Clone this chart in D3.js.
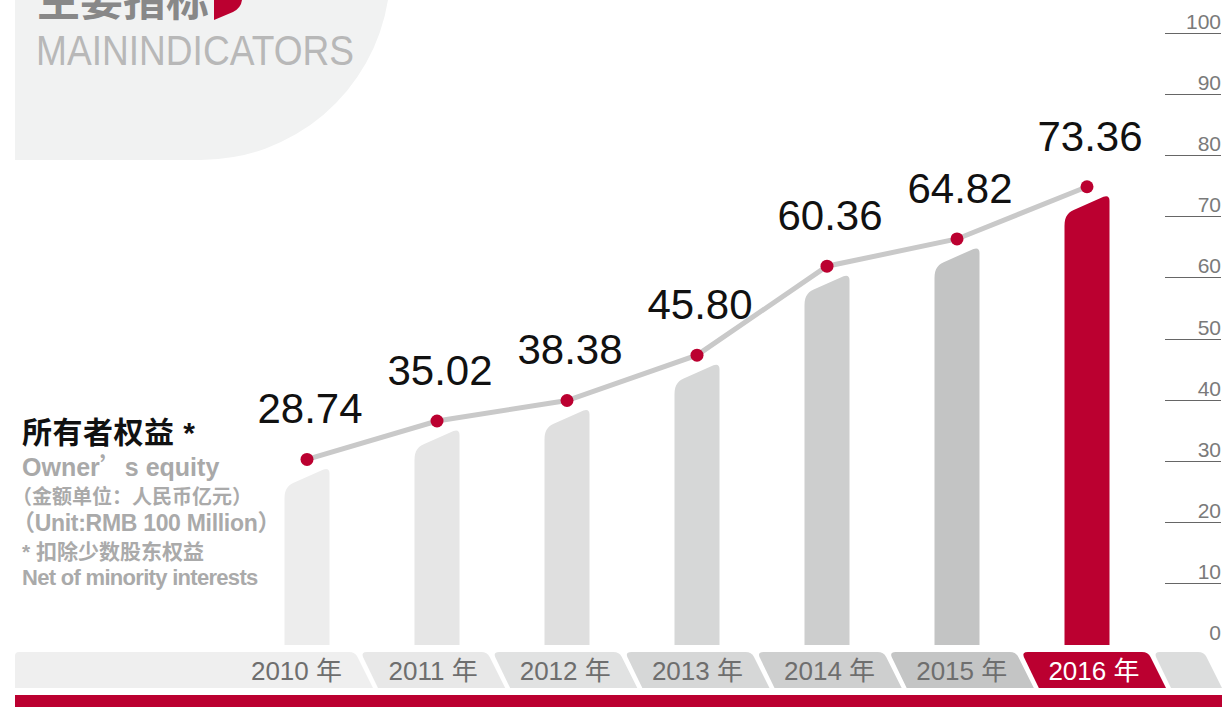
<!DOCTYPE html>
<html lang="zh">

<head>
    <meta charset="utf-8">
    <title>主要指标 - 所有者权益</title>
    <script src="https://d3js.org/d3.v7.min.js"></script>
    <style type="text/css">
        body { margin: 0; background: #fff; }
        svg { display: block; }
        text { font-family: "Liberation Sans", "Noto Sans CJK SC", sans-serif; }
    </style>
</head>

<body>
    <script type="text/javascript">

        // Width and height
        var w = 1230,
            h = 707;

        // data
        var years = ["2010", "2011", "2012", "2013", "2014", "2015", "2016"];
        var equity = [28.74, 35.02, 38.38, 45.80, 60.36, 64.82, 73.36];
        var yTicks = [0, 10, 20, 30, 40, 50, 60, 70, 80, 90, 100];
        var barColors = ["#ededed", "#e6e6e6", "#dfdfdf", "#d6d7d7", "#cdcece", "#c3c4c4", "#bb0030"];
        var tabColors = ["#efefef", "#e8e8e8", "#e1e2e2", "#d6d7d7", "#cecfcf", "#c4c5c5", "#bb0030", "#dcdddd"];

        var red = "#bb0030";

        var x = d3.scalePoint()
            .domain(years)
            .range([307, 1087]);

        var y = d3.scaleLinear()
            .domain([0, 100])
            .range([644, 33]);

        var svg = d3.select("body")
            .append("svg")
            .attr("width", w)
            .attr("height", h);

        // grey corner shape with title
        svg.append("path")
            .attr("d", "M15,0 L388,0 A190,190 0 0 1 200,160 L15,160 Z")
            .attr("fill", "#f1f2f2");

        svg.append("text")
            .attr("x", 37)
            .attr("y", 16)
            .attr("font-family", "Noto Sans CJK SC")
            .attr("font-size", "43px")
            .attr("font-weight", "bold")
            .attr("fill", "#888")
            .text("主要指标");

        svg.append("path")
            .attr("d", "M214,0 L214,20 L233,12 Q241,8 242,0 Z")
            .attr("fill", red);

        svg.append("text")
            .attr("x", 36)
            .attr("y", 65)
            .attr("font-family", "Lato")
            .attr("font-weight", 300)
            .attr("font-size", "42px")
            .attr("fill", "#b8b8b8")
            .attr("textLength", 318)
            .attr("lengthAdjust", "spacingAndGlyphs")
            .text("MAININDICATORS");

        // y axis on the right: short rules under each label
        var axis = svg.append("g");
        axis.selectAll("line")
            .data(yTicks.filter(function (d) { return d > 0; }))
            .enter()
            .append("line")
            .attr("x1", 1165)
            .attr("x2", 1221)
            .attr("y1", function (d) { return Math.round(y(d)) + 0.5; })
            .attr("y2", function (d) { return Math.round(y(d)) + 0.5; })
            .attr("stroke", "#666")
            .attr("stroke-width", 1);
        axis.selectAll("text")
            .data(yTicks)
            .enter()
            .append("text")
            .attr("x", 1221)
            .attr("y", function (d) { return y(d) - 4; })
            .attr("text-anchor", "end")
            .attr("font-size", "21px")
            .attr("fill", "#7a7a7a")
            .text(function (d) { return d; });

        // bars with a slanted, rounded top
        var bw = 45;
        function barPath(d, i) {
            var x0 = x(years[i]) - bw / 2,
                x1 = x0 + bw,
                t = y(d),
                b = y(0) + 1;
            return "M" + x0 + "," + b +
                " L" + x0 + "," + (t + 30) +
                " C" + x0 + "," + (t + 20) + " " + (x0 + 4) + "," + (t + 16) + " " + (x0 + 12) + "," + (t + 13) +
                " L" + (x1 - 6) + "," + (t + 1) +
                " Q" + x1 + "," + (t - 1) + " " + x1 + "," + (t + 5) +
                " L" + x1 + "," + b + " Z";
        }

        svg.selectAll("path.bar")
            .data(equity)
            .enter()
            .append("path")
            .attr("class", "bar")
            .attr("d", barPath)
            .attr("fill", function (d, i) { return barColors[i]; });

        // line + dots
        var line = d3.line()
            .x(function (d, i) { return x(years[i]); })
            .y(function (d) { return y(d) - 9; });

        svg.append("path")
            .datum(equity)
            .attr("d", line)
            .attr("fill", "none")
            .attr("stroke", "#c9c9c9")
            .attr("stroke-width", 5)
            .attr("stroke-linecap", "round");

        svg.selectAll("circle")
            .data(equity)
            .enter()
            .append("circle")
            .attr("cx", function (d, i) { return x(years[i]); })
            .attr("cy", function (d) { return y(d) - 9; })
            .attr("r", 6.5)
            .attr("fill", red);

        svg.selectAll("text.val")
            .data(equity)
            .enter()
            .append("text")
            .attr("class", "val")
            .attr("x", function (d, i) { return x(years[i]) + 3; })
            .attr("y", function (d) { return y(d) - 45; })
            .attr("text-anchor", "middle")
            .attr("font-family", "Roboto")
            .attr("font-size", "42px")
            .attr("fill", "#111")
            .text(function (d) { return d.toFixed(2); });

        // year tabs along the bottom
        var tT = 652, tB = 688, s = 17, gap = 5;
        var edge = d3.scaleLinear().domain([0, 6]).range([361, 1154]);
        function tabPath(i) {
            var L = i === 0 ? 15 : edge(i - 1),
                R = i === 7 ? 1205 : edge(i) - gap;
            var left = i === 0
                ? "M15," + tB + " L15," + (tT + 4) + " Q15," + tT + " 19," + tT
                : "M" + (L + s) + "," + tB + " L" + (L + 2) + "," + (tT + 5) + " Q" + L + "," + tT + " " + (L + 6) + "," + tT;
            return left +
                " L" + (R - 7) + "," + tT +
                " Q" + (R - 1) + "," + tT + " " + (R + 1.5) + "," + (tT + 5) +
                " L" + (R + s) + "," + tB + " Z";
        }

        var tabs = svg.append("g");
        tabs.selectAll("path")
            .data(tabColors)
            .enter()
            .append("path")
            .attr("d", function (d, i) { return tabPath(i); })
            .attr("fill", function (d) { return d; });

        tabs.selectAll("text")
            .data(years)
            .enter()
            .append("text")
            .attr("x", function (d, i) {
                var L = i === 0 ? 220 : edge(i - 1),
                    R = edge(i) - gap;
                return (L + R) / 2 + s / 2;
            })
            .attr("y", 680)
            .attr("text-anchor", "middle")
            .attr("font-size", "26px")
            .attr("fill", function (d, i) { return i === 6 ? "#fff" : "#6e6e6e"; })
            .text(function (d) { return d + " 年"; });

        svg.append("rect")
            .attr("x", 15)
            .attr("y", 695)
            .attr("width", 1207)
            .attr("height", 12)
            .attr("fill", red);

        // left description
        var desc = [
            { t: "所有者权益 *", y: 443, size: 30, color: "#111", font: "Noto Sans CJK SC", x: 22, ls: 0.5 },
            { t: "Owner\u2019s equity", y: 476, size: 25, color: "#a9a9a9", font: "Liberation Sans", x: 22, ls: 0 },
            { t: "（金额单位：人民币亿元）", y: 504, size: 20, color: "#aaa", font: "Noto Sans CJK SC", x: 12, ls: 0 },
            { t: "（Unit:RMB 100 Million）", y: 531, size: 23, color: "#aaa", font: "Liberation Sans", x: 12, ls: -0.3 },
            { t: "* 扣除少数股东权益", y: 559, size: 21, color: "#aaa", font: "Noto Sans CJK SC", x: 22, ls: 0 },
            { t: "Net of minority interests", y: 585, size: 22, color: "#aaa", font: "Liberation Sans", x: 22, ls: -0.7 }
        ];
        var dt = svg.selectAll("text.desc")
            .data(desc)
            .enter()
            .append("text")
            .attr("class", "desc")
            .attr("x", function (d) { return d.x; })
            .attr("y", function (d) { return d.y; })
            .attr("font-family", function (d) { return d.font; })
            .attr("font-size", function (d) { return d.size + "px"; })
            .attr("font-weight", "bold")
            .attr("letter-spacing", function (d) { return d.ls; })
            .attr("fill", function (d) { return d.color; });

        // the apostrophe in "Owner’s" is a full-width glyph in the original
        dt.each(function (d, i) {
            var el = d3.select(this);
            if (i === 1) {
                el.append("tspan").text("Owner");
                el.append("tspan").attr("font-family", "Noto Sans CJK SC").text("\u2019");
                el.append("tspan").text("s equity");
            } else {
                el.text(d.t);
            }
        });

    </script>
</body>

</html>
